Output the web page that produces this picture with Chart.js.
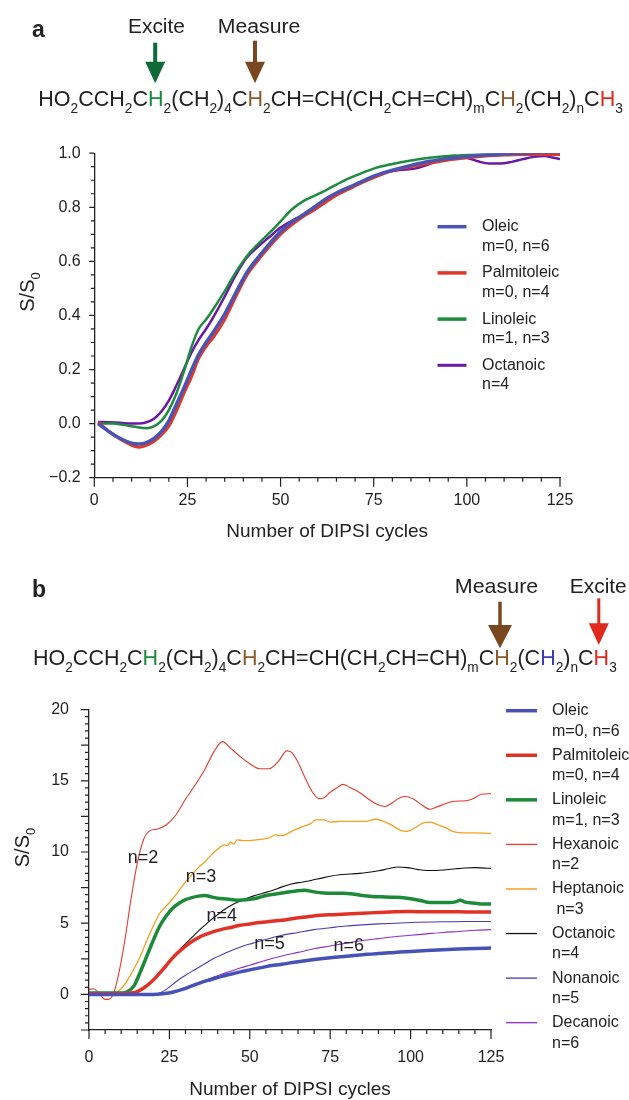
<!DOCTYPE html>
<html><head><meta charset="utf-8">
<script src="https://cdn.jsdelivr.net/npm/chart.js@4.4.1/dist/chart.umd.min.js"></script>
<style>
html,body{margin:0;padding:0;background:#fff;}
body{width:629px;height:1100px;position:relative;overflow:hidden;font-family:"Liberation Sans",Arial,Helvetica,sans-serif;}
#chartA{position:absolute;left:0;top:130px;}
#chartB{position:absolute;left:0;top:680px;}
#ann{position:absolute;left:0;top:0;pointer-events:none;}
</style></head><body>
<canvas id="chartA" width="629" height="420"></canvas>
<canvas id="chartB" width="629" height="430"></canvas>
<svg id="ann" width="629" height="1100" xmlns="http://www.w3.org/2000/svg" font-family="Liberation Sans, Arial, Helvetica, sans-serif" fill="#222">
<text x="32" y="37" font-size="23" font-weight="bold">a</text>
<text class="fit" data-w="57" x="128" y="33.3" font-size="21">Excite</text>
<text class="fit" data-w="82.7" x="217.7" y="33.3" font-size="21">Measure</text>
<line x1="155.2" y1="42.7" x2="155.2" y2="64" stroke="#0f6b35" stroke-width="4"/>
<polygon points="145.2,61.7 165.2,61.7 155.2,83.3" fill="#0f6b35"/>
<line x1="255" y1="40.7" x2="255" y2="64" stroke="#7a4820" stroke-width="4"/>
<polygon points="245,61.7 265,61.7 255,83.3" fill="#7a4820"/>
<text id="formulaA" class="fit" data-w="585" x="38.3" y="106" font-size="22"></text>
<text transform="translate(34.3,292) rotate(-90)" text-anchor="middle" font-size="20">S/S<tspan font-size="13" dy="5.5">0</tspan></text>

<text x="32" y="596.7" font-size="23" font-weight="bold">b</text>
<text class="fit" data-w="83.5" x="454.8" y="593.3" font-size="21">Measure</text>
<text class="fit" data-w="57" x="569.8" y="593.3" font-size="21">Excite</text>
<line x1="500" y1="601.7" x2="500" y2="627" stroke="#7a4820" stroke-width="3.5"/>
<polygon points="488,625 512,625 500,648.3" fill="#7a4820"/>
<line x1="598.8" y1="598.3" x2="598.8" y2="625" stroke="#e02a1c" stroke-width="3"/>
<polygon points="588.8,623.3 608.8,623.3 598.8,645" fill="#e02a1c"/>
<text id="formulaB" class="fit" data-w="584" x="33" y="665.3" font-size="22"></text>
<text transform="translate(29,847.5) rotate(-90)" text-anchor="middle" font-size="20">S/S<tspan font-size="13" dy="5.5">0</tspan></text>
</svg>
<script>
// ---------------- DATA ----------------
const xTicks = [0, 25, 50, 75, 100, 125];
const yTicksA = [-0.2, 0, 0.2, 0.4, 0.6, 0.8, 1.0];
const yTicksB = [0, 5, 10, 15, 20];

// Panel a (excite H3 -> measure H after (CH2)4)
const aOleicX = [1,4,7,10,12,14,16,18,20,22,24,26,28,30,32,35,38,41,44,47,50,53,56,59,62,65,68,71,75,80,85,90,95,100,105,110,115,120,125];
const aOleicY = [0.0,-0.03,-0.055,-0.072,-0.075,-0.07,-0.055,-0.03,0.01,0.07,0.13,0.195,0.255,0.3,0.34,0.405,0.485,0.56,0.615,0.665,0.71,0.745,0.772,0.8,0.83,0.853,0.872,0.89,0.915,0.937,0.955,0.97,0.98,0.988,0.993,0.997,1.0,1.003,1.005];
const aPalmX = aOleicX;
const aPalmY = [0.005,-0.03,-0.058,-0.08,-0.087,-0.08,-0.066,-0.042,-0.01,0.045,0.11,0.17,0.24,0.285,0.32,0.385,0.47,0.55,0.605,0.655,0.70,0.735,0.765,0.79,0.818,0.845,0.865,0.886,0.91,0.935,0.95,0.963,0.975,0.983,0.99,0.993,0.995,0.995,0.995];
const aLinX = [1,5,8,11,14,16,18,20,22,24,26,28,30,32,35,38,41,44,47,50,53,56,59,62,65,68,71,75,80,85,90,95,100,105,110,115,120,125];
const aLinY = [0.0,0.0,-0.005,-0.012,-0.017,-0.01,0.01,0.05,0.11,0.19,0.28,0.35,0.385,0.425,0.49,0.56,0.62,0.665,0.705,0.748,0.792,0.822,0.842,0.862,0.884,0.905,0.922,0.943,0.96,0.973,0.983,0.99,0.993,0.995,0.996,0.997,0.997,0.997];
const aOctX = [1,4,7,10,12,14,16,18,20,22,24,26,28,30,32,35,38,41,44,47,50,53,56,59,62,65,68,71,74,78,82,86,89,92,95,97,100,103,106,109,112,115,118,121,123,125];
const aOctY = [0.006,0.005,0.003,0.0,0.0,0.005,0.018,0.045,0.085,0.14,0.2,0.26,0.31,0.35,0.395,0.47,0.55,0.615,0.655,0.69,0.725,0.75,0.77,0.79,0.82,0.85,0.87,0.89,0.905,0.928,0.938,0.943,0.955,0.972,0.985,0.99,0.983,0.97,0.962,0.962,0.968,0.978,0.987,0.99,0.984,0.978];

// Panel b
const bOleicX = [0,20,23,26,29,32,35,38,41,44,47,50,55,60,65,70,75,80,85,90,95,100,105,110,115,120,125];
const bOleicY = [0,0.0,0.05,0.15,0.35,0.6,0.85,1.05,1.25,1.42,1.58,1.72,1.95,2.12,2.3,2.45,2.58,2.68,2.78,2.88,2.95,3.02,3.08,3.13,3.18,3.22,3.25];
const bPalmX = [0,10,13,15,17,19,21,23,25,27,29,31,33,35,38,41,44,47,50,53,56,60,64,68,72,76,80,85,90,95,100,105,110,115,120,125];
const bPalmY = [0.05,0.05,0.1,0.2,0.45,0.8,1.25,1.75,2.3,2.8,3.2,3.55,3.85,4.1,4.35,4.55,4.7,4.85,4.95,5.05,5.12,5.2,5.35,5.45,5.55,5.6,5.65,5.7,5.75,5.8,5.82,5.8,5.8,5.8,5.78,5.78];
const bLinX = [0,5,10,12,14,16,18,20,22,24,26,28,30,32,34,36,38,40,43,46,49,52,55,58,61,64,67,70,73,76,79,82,85,88,91,94,97,100,103,106,109,112,114,115.5,117,120,123,125];
const bLinY = [0.1,0.1,0.1,0.2,0.6,1.6,2.7,3.8,4.8,5.5,6.05,6.4,6.65,6.8,6.9,6.95,6.85,6.75,6.7,6.62,6.65,6.75,6.95,7.05,7.15,7.25,7.32,7.2,7.12,7.1,7.1,7.05,6.95,6.88,6.85,6.82,6.8,6.72,6.6,6.45,6.45,6.45,6.5,6.62,6.48,6.4,6.35,6.35];
const bHexX = [0,1.5,3,5,6,7.5,9,11,13,15,17,19,21,24,27,30,33,36,39,41.5,44,47,50,53,56,59,61.5,63,65,67,69.5,71.5,73,75,77,79,81,84,87,90,92,94,96.5,98.5,101,103.5,106,108,111,113,117,119,122,125];
const bHexY = [0.35,0.4,0.1,-0.35,-0.35,0.0,1.2,3.6,6.6,9.2,10.9,11.5,11.6,11.9,12.6,13.7,14.7,15.8,17.1,17.75,17.3,16.7,16.2,15.85,15.85,16.4,17.1,17.0,16.3,15.3,14.2,13.75,13.8,14.2,14.5,14.75,14.55,14.2,13.7,13.3,13.2,13.4,13.8,13.9,13.7,13.3,13.0,13.15,13.4,13.55,13.6,13.7,14.05,14.1];
const bHepX = [0,5,8,10,12,14,16,18,20,22,24,26,28,30,32,34,36,38,40,42,43,44,45,46,48,50,52,54,56,58,60,63,66,69,70.5,73,75,78,82,86,89,91,94,97,99,101,104,106,108,111,113,116,120,125];
const bHepY = [0.05,0.05,0.1,0.4,1.0,1.8,2.7,3.8,4.8,5.7,6.2,6.7,7.3,7.9,8.4,8.9,9.3,9.8,10.2,10.5,10.45,10.7,10.55,10.85,10.8,10.8,10.85,10.9,11.0,11.2,11.15,11.45,11.75,12.0,12.25,12.25,12.1,12.15,12.15,12.15,12.3,12.2,11.9,11.5,11.45,11.65,12.05,12.1,11.95,11.7,11.45,11.35,11.35,11.3];
const bOctX = [0,12,14,16,18,20,22,24,26,28,30,32,34,36,38,40,42,45,48,51,54,57,60,63,66,69,72,75,78,81,84,87,90,93,96,99,102,105,108,111,114,117,120,123,125];
const bOctY = [0,0.05,0.15,0.35,0.65,1.05,1.5,2.0,2.55,3.1,3.55,4.0,4.45,4.85,5.25,5.6,5.95,6.35,6.65,6.9,7.1,7.3,7.55,7.75,7.88,8.0,8.15,8.3,8.4,8.45,8.5,8.58,8.68,8.82,8.95,8.9,8.78,8.7,8.7,8.75,8.82,8.88,8.9,8.87,8.85];
const bNonX = [0,20,22,24,26,28,30,33,36,39,42,45,48,51,54,57,60,65,70,75,80,85,90,95,100,110,118,125];
const bNonY = [0,0.02,0.1,0.35,0.7,1.05,1.35,1.75,2.15,2.55,2.85,3.15,3.4,3.6,3.8,3.98,4.15,4.35,4.55,4.68,4.8,4.88,4.95,5.0,5.05,5.1,5.12,5.12];
const bDecX = [0,20,23,26,29,32,35,38,41,44,47,50,55,60,65,70,75,80,85,90,95,100,105,110,115,120,125];
const bDecY = [0,0.02,0.08,0.2,0.4,0.65,0.9,1.15,1.4,1.62,1.85,2.05,2.4,2.7,2.95,3.2,3.4,3.6,3.78,3.92,4.05,4.15,4.25,4.35,4.42,4.5,4.55];

const namesA = ['Oleic','Palmitoleic','Linoleic','Octanoic'];
const subsA = ['m=0, n=6','m=0, n=4','m=1, n=3','n=4'];
const namesB = ['Oleic','Palmitoleic','Linoleic','Hexanoic','Heptanoic','Octanoic','Nonanoic','Decanoic'];
const subsB = ['m=0, n=6','m=0, n=4','m=1, n=3','n=2',' n=3','n=4','n=5','n=6'];

// ---------------- FORMULAS ----------------
const HCOL = {g:'#1a8a3c', br:'#8b5a2b', r:'#e0281c', bl:'#3c3cb4'};
const formulaA = [['HO'],['2','s'],['CCH'],['2','s'],['C'],['H','g'],['2','s'],['(CH'],['2','s'],[')'],['4','s'],['C'],['H','br'],['2','s'],['CH=CH(CH'],['2','s'],['CH=CH)'],['m','s'],['C'],['H','br'],['2','s'],['(CH'],['2','s'],[')'],['n','s'],['C'],['H','r'],['3','s']];
const formulaB = [['HO'],['2','s'],['CCH'],['2','s'],['C'],['H','g'],['2','s'],['(CH'],['2','s'],[')'],['4','s'],['C'],['H','br'],['2','s'],['CH=CH(CH'],['2','s'],['CH=CH)'],['m','s'],['C'],['H','br'],['2','s'],['(C'],['H','bl'],['2','s'],[')'],['n','s'],['C'],['H','r'],['3','s']];
const NS = 'http://www.w3.org/2000/svg';
function buildFormula(el, segs){
  let low = false;
  for (const [t,k] of segs){
    const ts = document.createElementNS(NS,'tspan');
    ts.textContent = t;
    if (k === 's'){ ts.setAttribute('font-size','14'); if(!low){ ts.setAttribute('dy','7'); low = true; } }
    else { if(low){ ts.setAttribute('dy','-7'); low = false; } if(k) ts.setAttribute('fill', HCOL[k]); }
    el.appendChild(ts);
  }
}
buildFormula(document.getElementById('formulaA'), formulaA);
buildFormula(document.getElementById('formulaB'), formulaB);
document.querySelectorAll('text.fit').forEach(el=>{
  const w = el.getBBox().width, tw = +el.dataset.w, x0 = +el.getAttribute('x');
  const s = tw / w;
  el.setAttribute('transform', `translate(${x0*(1-s)},0) scale(${s},1)`);
});

// ---------------- CHART HELPERS ----------------
const FAM = "'Liberation Sans', Arial, Helvetica, sans-serif";
Chart.defaults.font.family = FAM;
Chart.defaults.color = '#222';
const pts = (xs, ys) => xs.map((x,i)=>({x, y: ys[i]}));
function ds(label, xs, ys, color, w){
  return {label, data: pts(xs,ys), borderColor: color, backgroundColor: color, borderWidth: w,
    pointRadius: 0, fill: false, cubicInterpolationMode: 'monotone'};
}
const tickMarks = {
  id: 'tickMarks',
  afterDraw(chart, args, o){
    const {ctx, chartArea:{left, bottom}} = chart;
    const xs = chart.scales.x, ys = chart.scales.y;
    ctx.save(); ctx.strokeStyle = o.color; ctx.lineWidth = o.width; ctx.beginPath();
    for (const t of o.x){ const n = Math.round((xs.max-xs.min)/t.step);
      for (let i=0;i<=n;i++){ const p = xs.getPixelForValue(xs.min+i*t.step); ctx.moveTo(p,bottom); ctx.lineTo(p,bottom+t.len); } }
    for (const t of o.y){ const n = Math.round((ys.max-ys.min)/t.step);
      for (let i=0;i<=n;i++){ const p = ys.getPixelForValue(ys.min+i*t.step); ctx.moveTo(left,p); ctx.lineTo(left-t.len,p); } }
    ctx.stroke(); ctx.restore();
  }
};
const sideLegend = {
  id: 'sideLegend',
  afterDraw(chart, args, o){
    const ctx = chart.ctx;
    ctx.save();
    ctx.font = `${o.size}px ${FAM}`; ctx.textBaseline = 'middle'; ctx.textAlign = 'left';
    chart.data.datasets.forEach((d,i)=>{
      const y = o.y0 + i*o.dy;
      ctx.strokeStyle = d.borderColor; ctx.lineWidth = o.widths[i];
      ctx.beginPath(); ctx.moveTo(o.x0, y); ctx.lineTo(o.x0+o.len, y); ctx.stroke();
      ctx.fillStyle = '#222';
      ctx.fillText(d.label, o.tx, y);
      ctx.fillText(o.subs[i], o.tx, y + o.dl);
    });
    ctx.restore();
  }
};
const curveLabels = {
  id: 'curveLabels',
  afterDatasetsDraw(chart, args, o){
    if (!o.items) return;
    const ctx = chart.ctx, xs = chart.scales.x, ys = chart.scales.y;
    ctx.save(); ctx.font = `${o.size}px ${FAM}`; ctx.fillStyle = '#222';
    ctx.textAlign = 'center'; ctx.textBaseline = 'middle';
    for (const it of o.items) ctx.fillText(it.text, xs.getPixelForValue(it.x), ys.getPixelForValue(it.y));
    ctx.restore();
  }
};
function axisBase(ticksArr, fmt, pad, size){
  return {
    afterBuildTicks: s => { s.ticks = ticksArr.map(v=>({value:v})); },
    ticks: {font:{size}, color:'#222', padding: pad, autoSkip:false, maxRotation:0, callback: fmt},
    grid: {display:false, drawTicks:false, tickLength:0},
    border: {display:true, color:'#222', width:1.3}
  };
}
const fmtA = v => v < 0 ? '\u2212' + Math.abs(v).toFixed(1) : v.toFixed(1);
const fmtInt = v => String(v);

// ---------------- CHART A ----------------
new Chart(document.getElementById('chartA'), {
  type: 'line',
  data: {datasets: [
    ds(namesA[0], aOleicX, aOleicY, '#4a55b3', 3.5),
    ds(namesA[1], aPalmX, aPalmY, '#e2382a', 3),
    ds(namesA[2], aLinX, aLinY, '#1e8b3e', 2.5),
    ds(namesA[3], aOctX, aOctY, '#6c18a6', 2.5)
  ]},
  options: {
    responsive:false, animation:false, events:[],
    layout: {padding:{left:0, top:22.7, right:69, bottom:0}},
    scales: {
      x: Object.assign(axisBase(xTicks, fmtInt, 13, 16), {type:'linear', min:0, max:125,
        title:{display:true, text:'Number of DIPSI cycles', font:{size:19}, color:'#222', padding:{top:0,bottom:7}},
        afterFit: s => { s.height = 72.3; }}),
      y: Object.assign(axisBase(yTicksA, fmtA, 13.6, 16), {type:'linear', min:-0.2, max:1.0,
        afterFit: s => { s.width = 94.3; }})
    },
    plugins: {
      legend:{display:false}, tooltip:{enabled:false},
      tickMarks:{color:'#222', width:1.2, x:[{step:25,len:9},{step:5,len:4}], y:[{step:0.2,len:5},{step:0.05,len:3.5}]},
      sideLegend:{size:16, x0:437.5, len:29, tx:482, y0:96.7, dy:46.2, dl:19.6, widths:[3.5,3.5,3.5,3], subs:subsA},
      curveLabels:{}
    }
  },
  plugins: [tickMarks, sideLegend, curveLabels]
});

// ---------------- CHART B ----------------
new Chart(document.getElementById('chartB'), {
  type: 'line',
  data: {datasets: [
    ds(namesB[0], bOleicX, bOleicY, '#4652b5', 3.5),
    ds(namesB[1], bPalmX, bPalmY, '#e03226', 3.5),
    ds(namesB[2], bLinX, bLinY, '#1d8a3a', 3.5),
    ds(namesB[3], bHexX, bHexY, '#e53a2e', 1.1),
    ds(namesB[4], bHepX, bHepY, '#f4a020', 1.3),
    ds(namesB[5], bOctX, bOctY, '#111111', 1.1),
    ds(namesB[6], bNonX, bNonY, '#4a3cb0', 1.1),
    ds(namesB[7], bDecX, bDecY, '#8a30cc', 1.1)
  ]},
  options: {
    responsive:false, animation:false, events:[],
    layout: {padding:{left:0, top:25, right:138, bottom:0}},
    scales: {
      x: Object.assign(axisBase(xTicks, fmtInt, 18.4, 16), {type:'linear', min:0, max:125,
        title:{display:true, text:'Number of DIPSI cycles', font:{size:19}, color:'#222', padding:{top:0,bottom:8.6}},
        afterFit: s => { s.height = 80; }}),
      y: Object.assign(axisBase(yTicksB, fmtInt, 20, 16), {type:'linear', min:-2.5, max:20,
        afterFit: s => { s.width = 89; }})
    },
    plugins: {
      legend:{display:false}, tooltip:{enabled:false},
      tickMarks:{color:'#222', width:1.2, x:[{step:25,len:9},{step:5,len:4}], y:[{step:2.5,len:8},{step:0.5,len:4}]},
      sideLegend:{size:16, x0:506, len:31, tx:552, y0:30.7, dy:44.57, dl:20.5, widths:[3.5,3.5,3.5,1.3,1.5,1.3,1.3,1.3], subs:subsB},
      curveLabels:{size:18, items:[
        {text:'n=2', x:16.8, y:9.55}, {text:'n=3', x:34.8, y:8.24}, {text:'n=4', x:41.3, y:5.47},
        {text:'n=5', x:56.1, y:3.55}, {text:'n=6', x:80.8, y:3.39}]}
    }
  },
  plugins: [tickMarks, sideLegend, curveLabels]
});
</script>
</body></html>
